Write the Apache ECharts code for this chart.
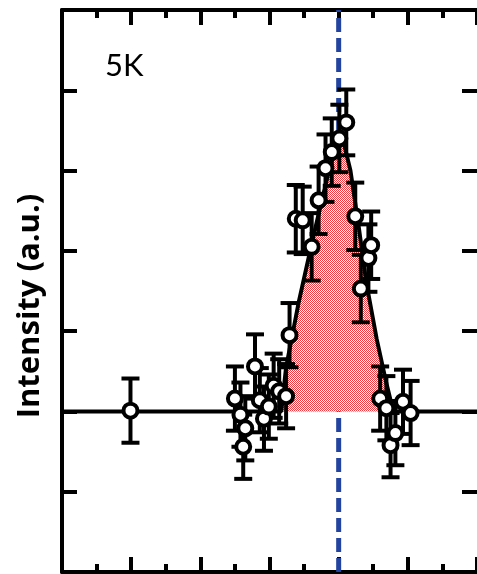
<!DOCTYPE html>
<html>
<head>
<meta charset="utf-8">
<script src="https://cdn.jsdelivr.net/npm/echarts@6/dist/echarts.min.js"></script>
<style>
  html, body { margin: 0; padding: 0; background: #fff; }
  #chart { width: 477px; height: 574px; }
</style>
</head>
<body>
<div id="chart"></div>
<script>
// measured points (scan position, intensity, error)
const scanX = [-0.301, -0.150, -0.142, -0.135, -0.138, -0.121, -0.114, -0.108, -0.101, -0.094, -0.086,
  -0.076, -0.071, -0.062, -0.052, -0.039, -0.029, -0.019, -0.010, 0.001, 0.011, 0.024, 0.032, 0.043,
  0.047, 0.060, 0.069, 0.075, 0.082, 0.093, 0.104]
const intensity = [0.01, 0.16, -0.04, -0.21, -0.44, 0.56, 0.14, -0.09, 0.06, 0.32, 0.25,
  0.19, 0.95, 2.40, 2.38, 2.05, 2.63, 3.03, 3.23, 3.40, 3.60, 2.43, 1.53, 1.91,
  2.07, 0.16, 0.04, -0.42, -0.27, 0.12, -0.02]
const errs = [0.40, 0.40, 0.40, 0.40, 0.40, 0.40, 0.40, 0.40, 0.40, 0.40, 0.40,
  0.40, 0.40, 0.42, 0.42, 0.42, 0.42, 0.42, 0.42, 0.42, 0.41, 0.42, 0.42, 0.42,
  0.42, 0.40, 0.40, 0.40, 0.40, 0.40, 0.40]

// fit curve
const fitX = [-0.4, -0.083, -0.076, -0.058, -0.036, -0.014, 0.003, 0.017, 0.029, 0.040, 0.055, 0.069, 0.079, 0.2]
const fitY = [0, 0, 0.55, 1.35, 2.2, 3.0, 3.5, 3.0, 2.3, 1.6, 0.9, 0.35, 0, 0]

const peakPos = 0
const tempLabel = '5K'
const yTitle = 'Intensity (a.u.)'

const chart = echarts.init(document.getElementById('chart'), null, { renderer: 'canvas' })

// red dotted fill
const pat = document.createElement('canvas')
pat.width = 2
pat.height = 2
const pctx = pat.getContext('2d')
pctx.fillStyle = '#ffffff'
pctx.fillRect(0, 0, 2, 2)
pctx.fillStyle = '#ee3a40'
pctx.fillRect(0, 0, 1, 1)
pctx.fillRect(1, 1, 1, 1)

const fitData = fitX.map((x, i) => [x, fitY[i]])
const fillData = fitData.slice(1, -1)
const points = scanX.map((x, i) => [x, intensity[i], errs[i]])

const xAxisBase = {
  type: 'value',
  min: -0.4,
  max: 0.2,
  interval: 0.1,
  axisLine: { show: true, onZero: false, lineStyle: { color: '#000', width: 4 } },
  axisTick: { show: true, inside: true, length: 15, lineStyle: { color: '#000', width: 4 } },
  minorTick: { show: true, splitNumber: 2, length: 8, lineStyle: { color: '#000', width: 4 } },
  axisLabel: { show: false },
  splitLine: { show: false },
  minorSplitLine: { show: false }
}
const yAxisBase = {
  type: 'value',
  min: -2,
  max: 5,
  interval: 1,
  axisLine: { show: true, onZero: false, lineStyle: { color: '#000', width: 4 } },
  axisTick: { show: true, inside: true, length: 15, lineStyle: { color: '#000', width: 4 } },
  axisLabel: { show: false },
  splitLine: { show: false }
}

chart.setOption({
  animation: false,
  backgroundColor: '#fff',
  grid: { left: 62, top: 10, width: 417, height: 562 },
  title: {
    text: tempLabel,
    left: 100,
    top: 45,
    textStyle: { fontFamily: 'Lato', fontWeight: 'normal', fontSize: 31, color: '#000' }
  },
  graphic: [
    {
      type: 'text',
      x: 30,
      y: 306,
      rotation: Math.PI / 2,
      style: {
        text: yTitle,
        fontFamily: 'Open Sans',
        fontWeight: 'bold',
        fontSize: 31,
        fill: '#000',
        align: 'center',
        verticalAlign: 'middle'
      }
    }
  ],
  xAxis: [
    { ...xAxisBase, position: 'bottom' },
    { ...xAxisBase, position: 'top' }
  ],
  yAxis: [
    { ...yAxisBase, position: 'left' },
    {
      ...yAxisBase,
      position: 'right',
      offset: 3,
      axisTick: { show: true, inside: true, length: 18, lineStyle: { color: '#000', width: 4 } }
    }
  ],
  series: [
    {
      type: 'line',
      z: 1,
      data: [[peakPos, -2], [peakPos, 5]],
      symbol: 'none',
      lineStyle: { color: '#2343a0', width: 5, type: [14, 6] }
    },
    {
      type: 'line',
      z: 2,
      data: fillData,
      symbol: 'none',
      lineStyle: { width: 0 },
      areaStyle: { color: { image: pat, repeat: 'repeat' }, opacity: 1, origin: 0 }
    },
    {
      type: 'line',
      z: 3,
      data: fitData,
      symbol: 'none',
      lineStyle: { color: '#000', width: 4 }
    },
    {
      type: 'custom',
      z: 4,
      data: points,
      renderItem (params, api) {
        const x = api.value(0)
        const y = api.value(1)
        const e = api.value(2)
        const lo = api.coord([x, y - e])
        const hi = api.coord([x, y + e])
        const w = 9
        const style = { stroke: '#000', lineWidth: 4 }
        return {
          type: 'group',
          children: [
            { type: 'line', shape: { x1: lo[0], y1: lo[1], x2: hi[0], y2: hi[1] }, style },
            { type: 'line', shape: { x1: lo[0] - w, y1: lo[1], x2: lo[0] + w, y2: lo[1] }, style },
            { type: 'line', shape: { x1: hi[0] - w, y1: hi[1], x2: hi[0] + w, y2: hi[1] }, style }
          ]
        }
      }
    },
    {
      type: 'scatter',
      z: 5,
      data: points.map(p => [p[0], p[1]]),
      symbol: 'circle',
      symbolSize: 14,
      itemStyle: { color: '#fff', borderColor: '#000', borderWidth: 4, opacity: 1 }
    }
  ]
})
</script>
</body>
</html>
